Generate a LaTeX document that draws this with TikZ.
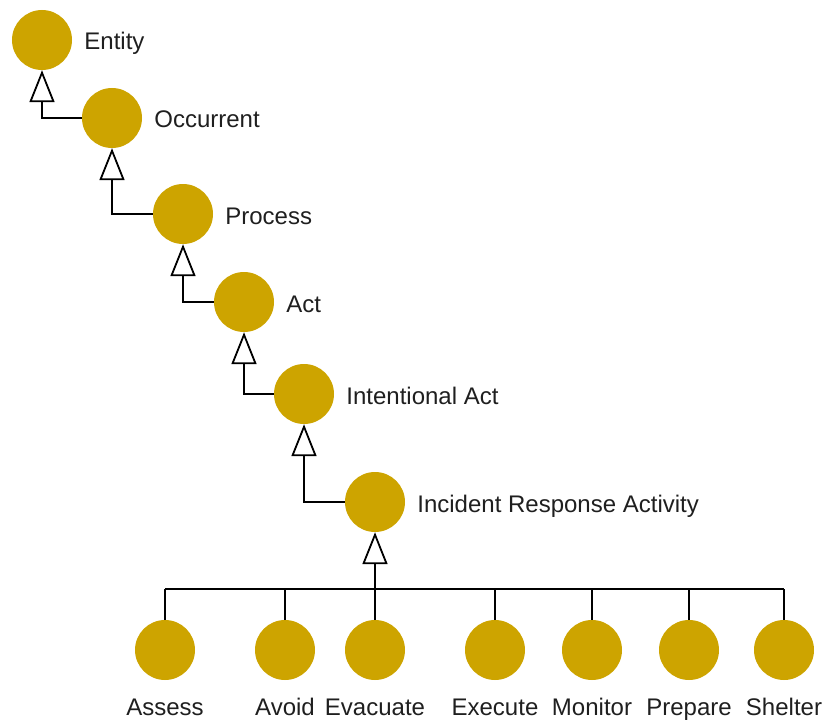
\documentclass[tikz,border=0pt]{standalone}
\usepackage{fontspec}
\setmainfont{Liberation Sans}
\usetikzlibrary{arrows.meta}
\definecolor{gold}{RGB}{205,164,0}
\begin{document}
\begin{tikzpicture}[x=1bp,y=-1bp,
  cls/.style={circle,fill=gold,minimum size=60bp,inner sep=0pt},
  txt/.style={font=\fontsize{24bp}{28bp}\selectfont,inner sep=0pt,text=black!88},
  sidetxt/.style={txt,anchor=base west,xshift=12bp,yshift=-10bp},
  isa/.style={draw,line width=1.8bp,-{Triangle[open,length=32bp,width=25bp,line width=1.8bp]}},
  link/.style={draw,line width=1.8bp}]
\useasboundingbox (0,0) rectangle (827,721);

% taxonomy chain
\node[cls] (ent) at (42,40)  {};
\node[cls] (occ) at (112,118) {};
\node[cls] (pro) at (183,214) {};
\node[cls] (act) at (244,302) {};
\node[cls] (ina) at (304,394) {};
\node[cls] (ira) at (375,502) {};

\node[sidetxt] (entT) at (ent.east) {Entity};
\node[sidetxt] (occT) at (occ.east) {Occurrent};
\node[sidetxt] (proT) at (pro.east) {Process};
\node[sidetxt] (actT) at (act.east) {Act};
\node[sidetxt] (inaT) at (ina.east) {Intentional Act};
\node[sidetxt] (iraT) at (ira.east) {Incident Response Activity};

\path[isa] (occ.west) -| (ent.south);
\path[isa] (pro.west) -| (occ.south);
\path[isa] (act.west) -| (pro.south);
\path[isa] (ina.west) -| (act.south);
\path[isa] (ira.west) -| (ina.south);

% leaf activities
\node[cls] (ass) at (165,650) {};
\node[cls] (avo) at (285,650) {};
\node[cls] (eva) at (375,650) {};
\node[cls] (exe) at (495,650) {};
\node[cls] (mon) at (592,650) {};
\node[cls] (pre) at (689,650) {};
\node[cls] (she) at (784,650) {};

\foreach \n/\t in {ass/Assess,avo/Avoid,eva/Evacuate,exe/Execute,mon/Monitor,pre/Prepare,she/Shelter}
  \node[txt,anchor=base] (\n T) at (\n.center |- 0,715) {\t};

\coordinate (bar) at (0,589);
\path[link] (ass.north |- bar) -- (she.north |- bar);
\foreach \n in {ass,avo,exe,mon,pre,she}
  \path[link] (\n.north) -- (\n.north |- bar);
\path[isa] (eva.north) -- (ira.south);
\end{tikzpicture}
\end{document}
